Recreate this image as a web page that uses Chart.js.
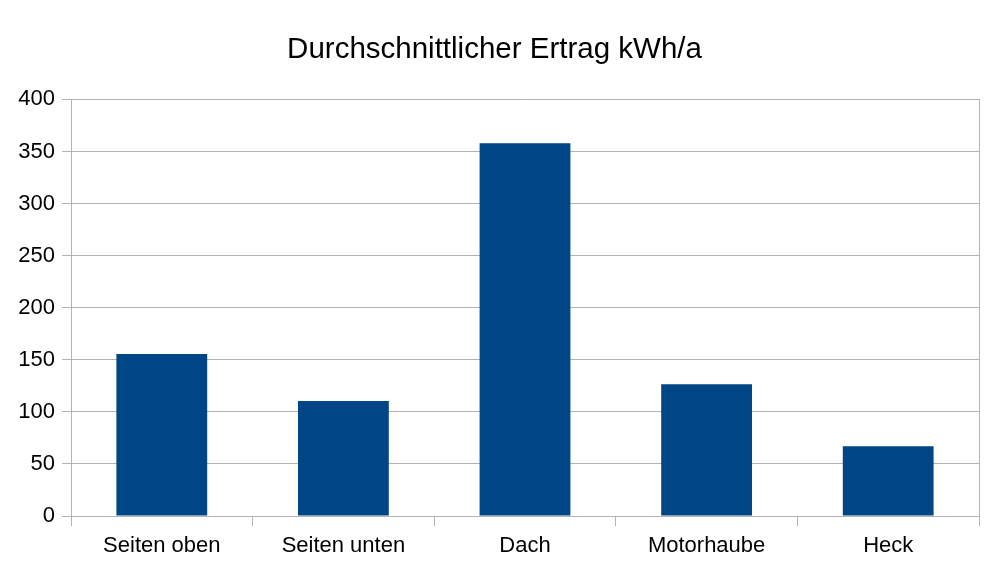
<!DOCTYPE html>
<html>
<head>
<meta charset="utf-8">
<script src="https://cdn.jsdelivr.net/npm/chart.js@4"></script>
<style>
  html, body { margin: 0; padding: 0; background: #fff; }
  #wrap { width: 989px; height: 561px; }
</style>
</head>
<body>
<div id="wrap"><canvas id="ertragChart" width="989" height="561"></canvas></div>
<script>
const categories = ['Seiten oben', 'Seiten unten', 'Dach', 'Motorhaube', 'Heck'];
const ertrag = [155.5, 110.5, 358, 126.5, 67];
const yTicks = [0, 50, 100, 150, 200, 250, 300, 350, 400];

const gridColor = '#b3b3b3';
const font = 'Liberation Sans, Arial, sans-serif';

const ctx = document.getElementById('ertragChart').getContext('2d');

new Chart(ctx, {
    type: 'bar',
    data: {
        labels: categories,
        datasets: [{
            label: 'Durchschnittlicher Ertrag kWh/a',
            data: ertrag,
            backgroundColor: '#004586',
            borderWidth: 0,
            barPercentage: 0.5,
            categoryPercentage: 1
        }]
    },
    options: {
        responsive: false,
        animation: false,
        devicePixelRatio: 1,
        layout: { padding: 0 },
        plugins: {
            legend: { display: false },
            tooltip: { enabled: false },
            title: {
                display: true,
                text: 'Durchschnittlicher Ertrag kWh/a',
                color: '#000',
                font: { family: font, size: 29.5, weight: 'normal' },
                padding: { top: 32, bottom: 32 }
            }
        },
        scales: {
            x: {
                grid: {
                    display: true,
                    offset: true,
                    drawOnChartArea: false,
                    drawTicks: true,
                    tickLength: 10,
                    color: gridColor
                },
                border: { display: true, color: gridColor },
                ticks: {
                    color: '#000',
                    padding: 7,
                    font: { family: font, size: 22 }
                },
                afterFit: scale => { scale.height = 45; }
            },
            y: {
                min: 0,
                max: 400,
                afterBuildTicks: scale => { scale.ticks = yTicks.map(v => ({ value: v })); },
                grid: {
                    color: gridColor,
                    tickLength: 9
                },
                border: { display: true, color: gridColor },
                ticks: {
                    color: '#000',
                    padding: 7,
                    font: { family: font, size: 22 }
                },
                afterFit: scale => { scale.width = 71; }
            },
            y2: {
                position: 'right',
                min: 0,
                max: 400,
                grid: { drawOnChartArea: false, drawTicks: false },
                border: { display: true, color: gridColor },
                ticks: { display: false },
                afterFit: scale => { scale.width = 10; }
            }
        }
    }
});
</script>
</body>
</html>
